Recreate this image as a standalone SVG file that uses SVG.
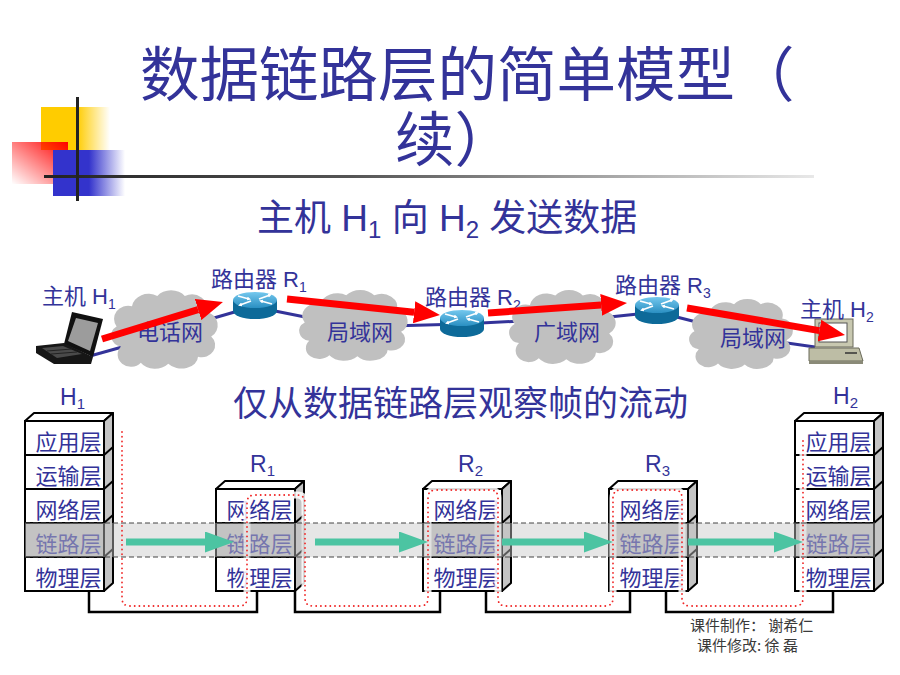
<svg xmlns="http://www.w3.org/2000/svg" xmlns:xlink="http://www.w3.org/1999/xlink" width="900" height="675" viewBox="0 0 900 675">
<style>
.t{font-family:"Liberation Sans","Noto Sans CJK SC",sans-serif;fill:#333399}
.layer{font-size:22px;text-anchor:middle}
.row{fill:#fff;stroke:#000;stroke-width:2}
.link{fill:#c0c0c0}
.side{fill:#c4c4c4;stroke:#000;stroke-width:2;stroke-linejoin:round}
.topf{fill:#fff;stroke:#000;stroke-width:2;stroke-linejoin:round}
.sep{stroke:#000;stroke-width:2}
.cloud{fill:#c0c0c0}
.wire{fill:none;stroke:#000;stroke-width:2.5}
.net{stroke:#333399;stroke-width:3}
.ra{stroke:#ff0000;stroke-width:7;marker-end:url(#ra)}
.ga{stroke:#4cc4a2;stroke-width:7;marker-end:url(#ga)}
.credit{font-family:"Noto Sans CJK SC",sans-serif;font-size:15px;fill:#3a3a3a}
</style>
<defs>
<marker id="ra" viewBox="0 0 26 22" refX="0" refY="11" markerWidth="26" markerHeight="22" markerUnits="userSpaceOnUse" orient="auto"><path d="M0,0 L26,11 L0,22 Z" fill="#ff0000"/></marker>
<marker id="ga" viewBox="0 0 29 21" refX="0" refY="10.5" markerWidth="29" markerHeight="21" markerUnits="userSpaceOnUse" orient="auto"><path d="M0,0 L29,10.5 L0,21 Z" fill="#4cc4a2"/></marker>
<marker id="wa" viewBox="0 0 4 4" refX="2" refY="2" markerWidth="4" markerHeight="4" markerUnits="userSpaceOnUse" orient="auto"><path d="M0,0 L4,2 L0,4 Z" fill="#fff"/></marker>
<linearGradient id="gy" x1="0" y1="0" x2="1" y2="0"><stop offset="0" stop-color="#ffcc00"/><stop offset="0.52" stop-color="#ffcc00"/><stop offset="1" stop-color="#ffcc00" stop-opacity="0"/></linearGradient>
<linearGradient id="gr" x1="0" y1="1" x2="1" y2="0"><stop offset="0" stop-color="#ff0000" stop-opacity="0"/><stop offset="1" stop-color="#ff0000"/></linearGradient>
<linearGradient id="gb" x1="0" y1="0" x2="1" y2="0"><stop offset="0" stop-color="#3333cc"/><stop offset="0.5" stop-color="#3333cc"/><stop offset="1" stop-color="#3333cc" stop-opacity="0"/></linearGradient>
<linearGradient id="gl" x1="0" y1="0" x2="1" y2="0"><stop offset="0" stop-color="#222"/><stop offset="0.4" stop-color="#555"/><stop offset="1" stop-color="#e8e8e8"/></linearGradient>
<linearGradient id="rtop" x1="0" y1="0" x2="0" y2="1"><stop offset="0" stop-color="#74c8ee"/><stop offset="1" stop-color="#2a8fc2"/></linearGradient>
<path id="cloud" d="M12,58 A11,11 0 0 1 8,38 A13,13 0 0 1 22,18 A15,14 0 0 1 45,8 A15,13 0 0 1 70,8 A14,14 0 0 1 90,24 A12,13 0 0 1 94,48 A12,12 0 0 1 82,68 A15,12 0 0 1 55,75 A15,12 0 0 1 30,74 A11,11 0 0 1 12,58 Z"/>
<g id="router">
<path d="M-22,0 V11 A22,8 0 0 0 22,11 V0 Z" fill="#0d6a99"/>
<ellipse cx="0" cy="0" rx="22" ry="8" fill="url(#rtop)"/>
<g stroke="#fff" stroke-width="1.8" marker-end="url(#wa)">
<line x1="-17" y1="-4" x2="-6" y2="-1"/>
<line x1="17" y1="4" x2="6" y2="1"/>
<line x1="4" y1="-1" x2="15" y2="-5"/>
<line x1="-4" y1="1" x2="-15" y2="5"/>
</g>
</g>
</defs>

<rect width="900" height="675" fill="#fff"/>

<!-- decoration -->
<g id="decoration">
<rect x="41" y="107" width="69" height="43" fill="url(#gy)"/>
<rect x="12" y="142" width="56" height="42" fill="url(#gr)"/>
<rect x="53" y="150" width="72" height="46" fill="url(#gb)"/>
<rect x="44" y="175" width="770" height="3" fill="url(#gl)"/>
<rect x="76" y="97" width="3" height="104" fill="#222"/>
</g>

<!-- titles -->
<text class="t" x="140" y="96" font-size="59.5">数据链路层的简单模型（</text>
<text class="t" x="395" y="161" font-size="59.5">续）</text>
<text class="t" x="257" y="231" font-size="37">主机 H<tspan font-size="24" dy="7">1</tspan><tspan dy="-7"> 向 H</tspan><tspan font-size="24" dy="7">2</tspan><tspan dy="-7"> 发送数据</tspan></text>
<text class="t" x="233" y="416" font-size="35">仅从数据链路层观察帧的流动</text>

<!-- network connectors (behind clouds) -->
<g id="net-links">
<line class="net" x1="90" y1="356" x2="140" y2="342"/>
<line class="net" x1="200" y1="322" x2="245" y2="309"/>
<line class="net" x1="265" y1="309" x2="330" y2="322"/>
<line class="net" x1="390" y1="326" x2="462" y2="324"/>
<line class="net" x1="462" y1="324" x2="540" y2="320"/>
<line class="net" x1="600" y1="318" x2="657" y2="312"/>
<line class="net" x1="657" y1="312" x2="720" y2="328"/>
<line class="net" x1="780" y1="342" x2="815" y2="347"/>
</g>

<g id="cloud-phone">
<use xlink:href="#cloud" href="#cloud" class="cloud" transform="translate(107.8,288) scale(1.10,1.01)"/>
<text class="t" x="170" y="340" font-size="22" text-anchor="middle">电话网</text>
</g>
<g id="cloud-lan1">
<use xlink:href="#cloud" href="#cloud" class="cloud" transform="translate(295.8,288) scale(1.12,0.91)"/>
<text class="t" x="360" y="340" font-size="22" text-anchor="middle">局域网</text>
</g>
<g id="cloud-wan">
<use xlink:href="#cloud" href="#cloud" class="cloud" transform="translate(505.8,288) scale(1.10,0.95)"/>
<text class="t" x="567" y="340" font-size="22" text-anchor="middle">广域网</text>
</g>
<g id="cloud-lan2">
<use xlink:href="#cloud" href="#cloud" class="cloud" transform="translate(685.9,297) scale(1.07,0.90)"/>
<text class="t" x="753" y="346" font-size="22" text-anchor="middle">局域网</text>
</g>

<g id="router-R1">
<use xlink:href="#router" href="#router" transform="translate(255,300)"/>
<text class="t" x="211" y="287" font-size="22">路由器 R<tspan font-size="14" dy="5">1</tspan></text>
</g>
<g id="router-R2">
<use xlink:href="#router" href="#router" transform="translate(462,318)"/>
<text class="t" x="425" y="305" font-size="22">路由器 R<tspan font-size="14" dy="5">2</tspan></text>
</g>
<g id="router-R3">
<use xlink:href="#router" href="#router" transform="translate(657,305)"/>
<text class="t" x="615" y="293" font-size="22">路由器 R<tspan font-size="14" dy="5">3</tspan></text>
</g>

<g id="host-H1">
<polygon points="72,312 103,319 93,357 64,344" fill="#111"/>
<polygon points="76,318 98,323 90,351 68,341" fill="#9c9c9c"/>
<polygon points="36,346 64,343 93,357 91,364 54,364 36,353" fill="#161616"/>
<polygon points="42,348 63,346 82,354 57,358" fill="#4a4a4a"/>
<line x1="47" y1="351" x2="72" y2="349" stroke="#222" stroke-width="1"/>
<line x1="51" y1="354" x2="77" y2="352" stroke="#222" stroke-width="1"/>
<text class="t" x="42" y="304" font-size="22">主机 H<tspan font-size="14" dy="5">1</tspan></text>
</g>

<g id="host-H2">
<rect x="815" y="319" width="38" height="28" fill="#c8c8b0" stroke="#6a6a5a" stroke-width="1"/>
<rect x="819" y="323" width="28" height="19" fill="#fff" stroke="#555" stroke-width="1"/>
<polygon points="809,348 859,348 863,361 809,361" fill="#bdbda5" stroke="#6a6a5a" stroke-width="1"/>
<rect x="809" y="361" width="54" height="3" fill="#8a8a78"/>
<line x1="845" y1="353" x2="857" y2="353" stroke="#333" stroke-width="1.5"/>
<text class="t" x="800" y="317" font-size="22">主机 H<tspan font-size="14" dy="5">2</tspan></text>
</g>

<g id="red-arrows">
<line class="ra" x1="102" y1="339" x2="198.1" y2="309.6"/>
<line class="ra" x1="287" y1="299" x2="414.1" y2="312.3"/>
<line class="ra" x1="488" y1="313" x2="601.1" y2="304.9"/>
<line class="ra" x1="687" y1="308" x2="819.4" y2="330.6"/>
</g>

<!-- stacks -->
<g id="stack-H1">
<polygon class="topf" points="25,421 34,413 113,413 104,421"/>
<polygon class="side" points="104,421 113,413 113,583 104,591"/>
<line class="sep" x1="104" y1="455" x2="113" y2="447"/>
<line class="sep" x1="104" y1="489" x2="113" y2="481"/>
<line class="sep" x1="104" y1="523" x2="113" y2="515"/>
<line class="sep" x1="104" y1="557" x2="113" y2="549"/>
<rect class="row" x="25" y="421" width="79" height="34"/>
<rect class="row" x="25" y="455" width="79" height="34"/>
<rect class="row" x="25" y="489" width="79" height="34"/>
<rect class="row link" x="25" y="523" width="79" height="34"/>
<rect class="row" x="25" y="557" width="79" height="34"/>
<text class="t layer" x="68.5" y="450">应用层</text>
<text class="t layer" x="68.5" y="484">运输层</text>
<text class="t layer" x="68.5" y="518">网络层</text>
<text class="t layer" x="68.5" y="552">链路层</text>
<text class="t layer" x="68.5" y="586">物理层</text>
<text class="t" x="60" y="405" font-size="23">H<tspan font-size="15" dy="4">1</tspan></text>
</g>

<g id="stack-R1">
<polygon class="topf" points="216,489 225,481 304,481 295,489"/>
<polygon class="side" points="295,489 304,481 304,583 295,591"/>
<line class="sep" x1="295" y1="523" x2="304" y2="515"/>
<line class="sep" x1="295" y1="557" x2="304" y2="549"/>
<rect class="row" x="216" y="489" width="79" height="34"/>
<rect class="row link" x="216" y="523" width="79" height="34"/>
<rect class="row" x="216" y="557" width="79" height="34"/>
<text class="t layer" x="259.5" y="518">网络层</text>
<text class="t layer" x="259.5" y="552">链路层</text>
<text class="t layer" x="259.5" y="586">物理层</text>
<text class="t" x="250" y="472" font-size="23">R<tspan font-size="15" dy="4">1</tspan></text>
</g>

<g id="stack-R2">
<polygon class="topf" points="423,489 432,481 511,481 502,489"/>
<polygon class="side" points="502,489 511,481 511,583 502,591"/>
<line class="sep" x1="502" y1="523" x2="511" y2="515"/>
<line class="sep" x1="502" y1="557" x2="511" y2="549"/>
<rect class="row" x="423" y="489" width="79" height="34"/>
<rect class="row link" x="423" y="523" width="79" height="34"/>
<rect class="row" x="423" y="557" width="79" height="34"/>
<text class="t layer" x="466.5" y="518">网络层</text>
<text class="t layer" x="466.5" y="552">链路层</text>
<text class="t layer" x="466.5" y="586">物理层</text>
<text class="t" x="458" y="472" font-size="23">R<tspan font-size="15" dy="4">2</tspan></text>
</g>

<g id="stack-R3">
<polygon class="topf" points="609,489 618,481 697,481 688,489"/>
<polygon class="side" points="688,489 697,481 697,583 688,591"/>
<line class="sep" x1="688" y1="523" x2="697" y2="515"/>
<line class="sep" x1="688" y1="557" x2="697" y2="549"/>
<rect class="row" x="609" y="489" width="79" height="34"/>
<rect class="row link" x="609" y="523" width="79" height="34"/>
<rect class="row" x="609" y="557" width="79" height="34"/>
<text class="t layer" x="652.5" y="518">网络层</text>
<text class="t layer" x="652.5" y="552">链路层</text>
<text class="t layer" x="652.5" y="586">物理层</text>
<text class="t" x="645" y="472" font-size="23">R<tspan font-size="15" dy="4">3</tspan></text>
</g>

<g id="stack-H2">
<polygon class="topf" points="795,421 804,413 883,413 874,421"/>
<polygon class="side" points="874,421 883,413 883,583 874,591"/>
<line class="sep" x1="874" y1="455" x2="883" y2="447"/>
<line class="sep" x1="874" y1="489" x2="883" y2="481"/>
<line class="sep" x1="874" y1="523" x2="883" y2="515"/>
<line class="sep" x1="874" y1="557" x2="883" y2="549"/>
<rect class="row" x="795" y="421" width="79" height="34"/>
<rect class="row" x="795" y="455" width="79" height="34"/>
<rect class="row" x="795" y="489" width="79" height="34"/>
<rect class="row link" x="795" y="523" width="79" height="34"/>
<rect class="row" x="795" y="557" width="79" height="34"/>
<text class="t layer" x="838.5" y="450">应用层</text>
<text class="t layer" x="838.5" y="484">运输层</text>
<text class="t layer" x="838.5" y="518">网络层</text>
<text class="t layer" x="838.5" y="552">链路层</text>
<text class="t layer" x="838.5" y="586">物理层</text>
<text class="t" x="833" y="404" font-size="23">H<tspan font-size="15" dy="4">2</tspan></text>
</g>

<!-- connectors -->
<g id="connectors">
<path class="wire" d="M89,591 V612 H257 V591"/>
<path class="wire" d="M295,591 V612 H440 V591"/>
<path class="wire" d="M486,591 V612 H630 V591"/>
<path class="wire" d="M666,591 V612 H833 V591"/>
<path d="M122,432 V598 Q122,606 130,606 H239 Q247,606 247,598 V503 Q247,495 255,495 H297 Q305,495 305,503 V598 Q305,606 313,606 H420 Q428,606 428,598 V498 Q428,490 436,490 H490 Q498,490 498,498 V598 Q498,606 506,606 H605 Q613,606 613,598 V498 Q613,490 621,490 H674 Q682,490 682,498 V598 Q682,606 690,606 H795 Q803,606 803,598 V440" fill="none" stroke="#fff" stroke-width="7" stroke-opacity="0.85"/>
</g>

<g id="link-band">
<rect x="25" y="523" width="850" height="34" fill="#c8c8c8" fill-opacity="0.45"/>
<line x1="25" y1="523" x2="875" y2="523" stroke="#444" stroke-width="1" stroke-dasharray="5 3"/>
<line x1="25" y1="557" x2="875" y2="557" stroke="#444" stroke-width="1" stroke-dasharray="5 3"/>
</g>

<g id="frame-flow">
<path d="M122,432 V598 Q122,606 130,606 H239 Q247,606 247,598 V503 Q247,495 255,495 H297 Q305,495 305,503 V598 Q305,606 313,606 H420 Q428,606 428,598 V498 Q428,490 436,490 H490 Q498,490 498,498 V598 Q498,606 506,606 H605 Q613,606 613,598 V498 Q613,490 621,490 H674 Q682,490 682,498 V598 Q682,606 690,606 H795 Q803,606 803,598 V440" fill="none" stroke="#f02828" stroke-width="1.8" stroke-linecap="round" stroke-dasharray="0.1 4.6"/>
<line class="ga" x1="126" y1="542" x2="205" y2="542"/>
<line class="ga" x1="315" y1="542" x2="399" y2="542"/>
<line class="ga" x1="502" y1="542" x2="584" y2="542"/>
<line class="ga" x1="688" y1="542" x2="774" y2="542"/>
</g>

<text class="credit" x="690" y="631">课件制作： 谢希仁</text>
<text class="credit" x="697" y="651">课件修改: 徐 磊</text>
</svg>
